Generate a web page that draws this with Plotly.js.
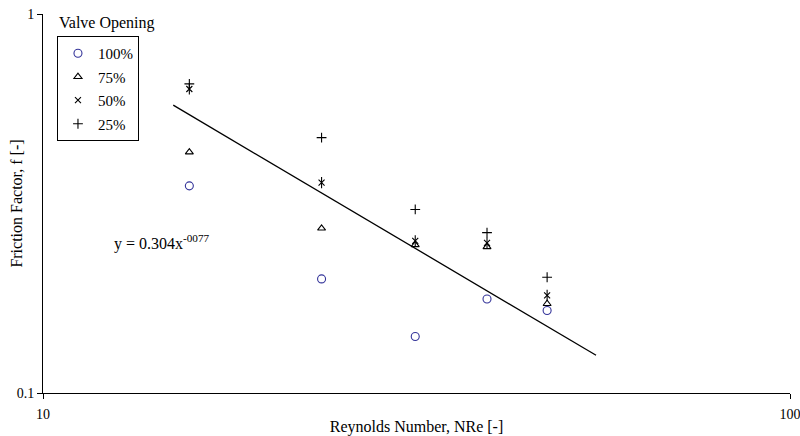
<!DOCTYPE html>
<html>
<head>
<meta charset="utf-8">
<script src="https://cdn.plot.ly/plotly-3.0.1.min.js"></script>
<style>
  html, body { margin: 0; padding: 0; background: #fff; }
  #chart { width: 800px; height: 436px; }
</style>
</head>
<body>
<div id="chart"></div>
<script>
// Reynolds number for each run
const reynolds = [15.7, 23.6, 31.5, 39.3, 47.3];

// Friction factor at each valve opening
const f100 = [0.352, 0.200, 0.141, 0.177, 0.165];
const f75  = [0.432, 0.272, 0.246, 0.243, 0.172];
const f50  = [0.634, 0.359, 0.252, 0.249, 0.181];
const f25  = [0.654, 0.472, 0.305, 0.265, 0.202];

// Power-law trend line f = a * Re^b
const trendA = 13.45;
const trendB = -1.166;
const trendRange = [14.94, 55.0];
const trendLabel = 'y = 0.304x<sup>-0077</sup>';

const tickX = [10, 100];
const tickXText = ['10', '100'];
const tickY = [0.1, 1];
const tickYText = ['0.1', '1'];

const trendX = [];
const trendY = [];
const nSteps = 20;
for (let i = 0; i <= nSteps; i++) {
  const lx = Math.log10(trendRange[0]) + (Math.log10(trendRange[1]) - Math.log10(trendRange[0])) * i / nSteps;
  const x = Math.pow(10, lx);
  trendX.push(x);
  trendY.push(trendA * Math.pow(x, trendB));
}

const serif = '"Liberation Serif", serif';

const traces = [
  {
    x: trendX, y: trendY, mode: 'lines', showlegend: false, hoverinfo: 'skip',
    line: { color: '#000', width: 1.3 }
  },
  {
    x: reynolds, y: f100, mode: 'markers', name: '100%', legendgroup: 'a',
    marker: { symbol: 'circle-open', size: 8, color: '#333399', line: { width: 1.1, color: '#333399' } }
  },
  {
    x: reynolds, y: f75, mode: 'markers', name: '75%', legendgroup: 'b',
    marker: { symbol: 'triangle-up-open', size: 7, color: '#000', line: { width: 1.1, color: '#000' } }
  },
  {
    x: reynolds, y: f50, mode: 'markers', name: '50%', legendgroup: 'c',
    marker: { symbol: 'x-thin-open', size: 6, color: '#000', line: { width: 1.1, color: '#000' } }
  },
  {
    x: reynolds, y: f50, mode: 'markers', name: '50%', legendgroup: 'c', showlegend: false,
    marker: { symbol: 'line-ns-open', size: 8, color: '#000', line: { width: 1.1, color: '#000' } }
  },
  {
    x: reynolds, y: f25, mode: 'markers', name: '25%', legendgroup: 'd',
    marker: { symbol: 'cross-thin-open', size: 7, color: '#000', line: { width: 1.1, color: '#000' } }
  }
];

const layout = {
  width: 800, height: 436,
  margin: { l: 43, r: 10, t: 14, b: 43 },
  paper_bgcolor: '#fff', plot_bgcolor: '#fff',
  font: { family: serif, size: 14, color: '#000' },
  showlegend: true,
  legend: {
    x: 0.0187, y: 0.942, xanchor: 'left', yanchor: 'top',
    bordercolor: '#000', borderwidth: 1, bgcolor: '#fff',
    font: { family: serif, size: 15, color: '#000' },
    traceorder: 'grouped', tracegroupgap: 1, itemwidth: 30
  },
  xaxis: {
    type: 'log', range: [1, 2],
    tickvals: tickX, ticktext: tickXText,
    ticks: 'outside', ticklen: 5, tickcolor: '#000',
    showline: true, linecolor: '#000', linewidth: 1,
    showgrid: false, zeroline: false,
    tickfont: { family: serif, size: 14 },
    ticklabelstandoff: 3,
    ticklabeloverflow: 'allow',
    title: { text: 'Reynolds Number, NRe [-]', font: { family: serif, size: 16 }, standoff: 2 }
  },
  yaxis: {
    type: 'log', range: [-1, 0],
    tickvals: tickY, ticktext: tickYText,
    ticks: 'outside', ticklen: 5, tickcolor: '#000',
    showline: true, linecolor: '#000', linewidth: 1,
    showgrid: false, zeroline: false,
    tickfont: { family: serif, size: 14 },
    ticklabeloverflow: 'allow'
  },
  annotations: [
    {
      text: 'Friction Factor, f [-]', xref: 'paper', yref: 'paper',
      x: -0.036, y: 0.5, xanchor: 'center', yanchor: 'middle', textangle: -90, showarrow: false,
      font: { family: serif, size: 16, color: '#000' }
    },
    {
      text: 'Valve Opening', xref: 'paper', yref: 'paper',
      x: 0.0187, y: 0.976, xanchor: 'left', yanchor: 'middle', showarrow: false,
      font: { family: serif, size: 16, color: '#000' }
    },
    {
      text: trendLabel, xref: 'paper', yref: 'paper',
      x: 0.093, y: 0.398, xanchor: 'left', yanchor: 'middle', showarrow: false,
      font: { family: serif, size: 16, color: '#000' }
    }
  ]
};

Plotly.newPlot('chart', traces, layout, { displayModeBar: false, staticPlot: true });
</script>
</body>
</html>
